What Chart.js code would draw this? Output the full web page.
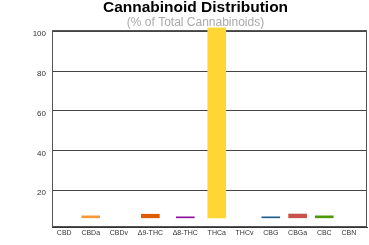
<!DOCTYPE html>
<html>
<head>
<meta charset="utf-8">
<script src="https://cdn.jsdelivr.net/npm/chart.js@4.4.0/dist/chart.umd.min.js"></script>
<style>
  body { margin: 0; background: #fff; }
  canvas { display: block; }
</style>
</head>
<body>
<canvas id="grafikKanabinoid" width="369" height="245"></canvas>
<script>
// data (persen dari total kanabinoid)
const labels = ['CBD', 'CBDa', 'CBDv', 'Δ9-THC', 'Δ8-THC', 'THCa', 'THCv', 'CBG', 'CBGa', 'CBC', 'CBN'];
const persen = [0, 1.0, 0, 1.8, 0.5, 95.3, 0, 0.5, 1.9, 1.0, 0];
const warna = ['#3a7bbf', '#f7983a', '#7fb24a', '#e05a00', '#8b0e9b', '#ffd633', '#6a8fd0', '#1f5f8b', '#c9504d', '#4e9a06', '#999999'];
const yTicks = [20, 40, 60, 80, 100];
const dasar = 6.4; // batang mulai dari sini (bukan dari nol)

// posisi kategori mengikuti lebar teks label
const ukur = document.createElement('canvas').getContext('2d');
ukur.font = '7px "Liberation Sans", Arial, sans-serif';
const jarak = 10;
let total = 0;
const posisiX = labels.map(l => {
  const w = ukur.measureText(l).width + jarak;
  const tengah = total + w / 2;
  total += w;
  return tengah;
});

// garis kotak di sekeliling area grafik
const kotak = {
  id: 'kotak',
  beforeDatasetsDraw(chart) {
    const a = chart.chartArea;
    const c = chart.ctx;
    c.save();
    c.strokeStyle = '#555';
    c.lineWidth = 1;
    c.strokeRect(Math.round(a.left) + 0.5, Math.round(a.top) + 0.5, Math.round(a.right - a.left) - 1, Math.round(a.bottom - a.top) - 1);
    c.restore();
  }
};

new Chart(document.getElementById('grafikKanabinoid'), {
  type: 'bar',
  data: {
    datasets: [{
      // nilai nol tidak digambar
      data: posisiX.map((x, i) => ({ x: x, y: persen[i] ? [dasar, dasar + persen[i]] : null })),
      backgroundColor: warna,
      borderWidth: 0,
      barThickness: 18,
      clip: false
    }]
  },
  options: {
    responsive: false,
    animation: false,
    layout: { padding: { left: 24, right: 2, top: 0, bottom: 5.6 } },
    scales: {
      x: {
        type: 'linear',
        offset: false,
        min: 0,
        max: total + 6,
        grid: { display: false, drawTicks: false },
        border: { display: true, color: '#333' },
        afterBuildTicks: scale => { scale.ticks = posisiX.map(v => ({ value: v })); },
        ticks: {
          autoSkip: false,
          maxRotation: 0,
          padding: 2,
          color: '#333',
          font: { family: '"Liberation Sans", Arial, sans-serif', size: 7 },
          callback: (v, i) => labels[i]
        }
      },
      y: {
        min: 1.8,
        max: 100.5,
        afterFit: scale => { scale.width = 28; },
        afterBuildTicks: scale => { scale.ticks = yTicks.map(v => ({ value: v })); },
        grid: { color: '#444', drawTicks: false },
        border: { display: true, color: '#333' },
        ticks: {
          padding: 6,
          labelOffset: 2.5,
          color: '#333',
          font: { family: '"Liberation Sans", Arial, sans-serif', size: 8 }
        }
      }
    },
    plugins: {
      legend: { display: false },
      tooltip: { enabled: false },
      title: {
        display: true,
        text: 'Cannabinoid Distribution',
        color: '#000',
        padding: { top: 0, bottom: 0 },
        font: { family: '"Liberation Sans", Arial, sans-serif', size: 15.5, weight: 'bold', lineHeight: 0.95 }
      },
      subtitle: {
        display: true,
        text: '(% of Total Cannabinoids)',
        color: '#aaa',
        padding: { top: 1, bottom: 0 },
        font: { family: '"Liberation Sans", Arial, sans-serif', size: 12, lineHeight: 1.2 }
      }
    }
  },
  plugins: [kotak]
});
</script>
</body>
</html>
